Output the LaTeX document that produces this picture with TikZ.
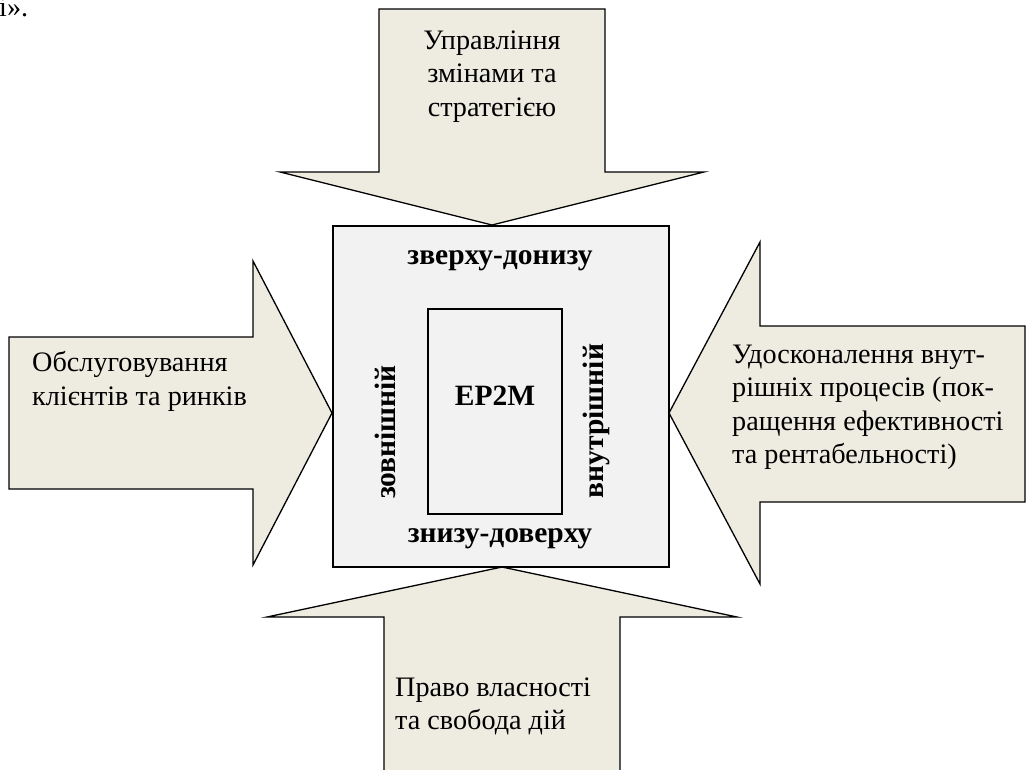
\documentclass[tikz,border=0pt]{standalone}
\usepackage{fontspec}
\setmainfont{Liberation Serif}
\definecolor{arrowfill}{HTML}{EEECE1}
\definecolor{boxfill}{HTML}{F2F2F2}
\begin{document}
\begin{tikzpicture}[x=1pt, y=-1pt,
  bigarrow/.style={draw=black, line width=1.3pt, fill=arrowfill, line join=miter},
  panel/.style={draw=black, line width=1.3pt, fill=boxfill, inner sep=0pt},
  plain/.style={font=\fontsize{28.2}{33.5}\selectfont, inner sep=0pt, align=left},
  heavy/.style={font=\fontsize{29.5}{33.5}\selectfont\bfseries, inner sep=0pt}]
  % page frame
  \useasboundingbox (0,0) rectangle (1026,769);
  \fill[white] (0,0) rectangle (1026,769);

  % tail of the preceding sentence
  \node[plain, anchor=base west] (tail) at (-1,16) {і».};

  % four block arrows pointing at the centre panel
  \draw[bigarrow] (379,9) -- (605,9) -- (605,172) -- (704,172) -- (492,225)
    -- (280,172) -- (379,172) -- cycle;
  \draw[bigarrow] (9,337) -- (253,337) -- (253,261) -- (332,413) -- (253,565)
    -- (253,489) -- (9,489) -- cycle;
  \draw[bigarrow] (1025,326) -- (760,326) -- (760,242) -- (669,413) -- (760,584)
    -- (760,502) -- (1025,502) -- cycle;
  \draw[bigarrow] (384,800) -- (384,617) -- (267,617) -- (502,567) -- (737,617)
    -- (620,617) -- (620,800) -- cycle;

  % centre panel and inner frame
  \node[panel, minimum width=336pt, minimum height=341pt] (outer) at (501,396.5) {};
  \node[panel, minimum width=134pt, minimum height=205pt] (inner) at (495,411.5) {};

  % panel labels
  \node[heavy, anchor=base] (topdown) at (500,264) {зверху-донизу};
  \node[heavy, anchor=base] (bottomup) at (500,542) {знизу-доверху};
  \node[heavy, anchor=base] (core) at (495,405) {EP2M};
  \node[heavy, anchor=base, rotate=90] (external) at (395,432) {зовнішній};
  \node[heavy, anchor=base, rotate=90] (internal) at (603,421) {внутрішній};

  % arrow captions
  \node[plain, align=center, anchor=north] (change) at (492,30.5)
    {Управління\\змінами та\\стратегією};
  \node[plain, anchor=north west] (clients) at (32,351.5)
    {Обслуговування\\клієнтів та ринків};
  \node[plain, anchor=north west] (processes) at (732,344.5)
    {Удосконалення внут-\\рішніх процесів (пок-\\ращення ефективності\\та рентабельності)};
  \node[plain, anchor=north west] (ownership) at (395,677.5)
    {Право власності\\та свобода дій};
\end{tikzpicture}
\end{document}
